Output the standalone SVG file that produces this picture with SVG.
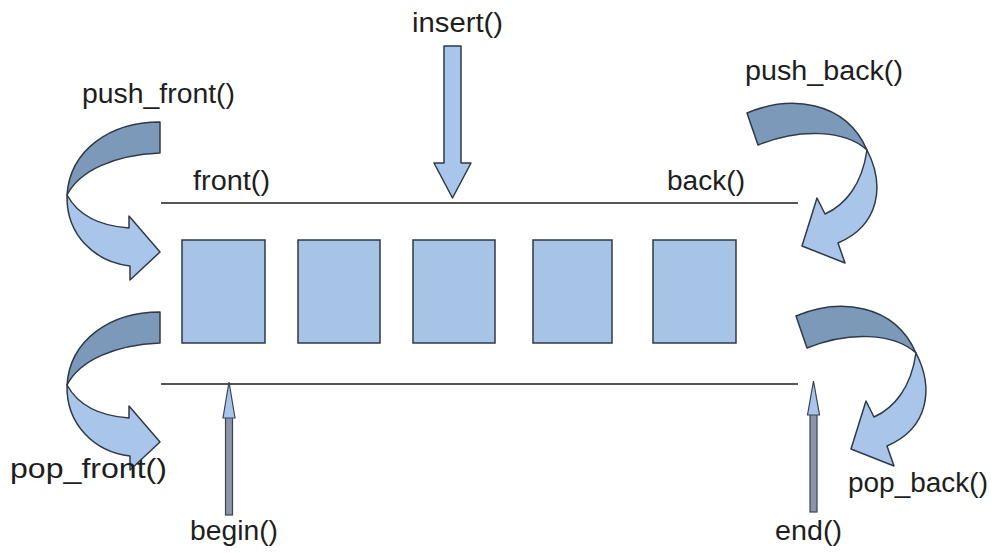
<svg xmlns="http://www.w3.org/2000/svg" width="994" height="553" viewBox="0 0 994 553">
<style>
.t{font-family:"Liberation Sans",Arial,sans-serif;font-size:27px;fill:#1e1e1e}
.box{fill:#a7c3e6;stroke:#2e3a48;stroke-width:1.5}
.dark{fill:#7d99b9;stroke:#2e3a48;stroke-width:1.5;stroke-linejoin:round}
.light{fill:#a9c6ea;stroke:#2e3a48;stroke-width:1.5;stroke-linejoin:round}
.rail{stroke:#555;stroke-width:2}
.ptr{fill:#8c95a8;stroke:#3a4454;stroke-width:1.2}
.ptrh{fill:#a9c6ea;stroke:#3a4454;stroke-width:1.2}
</style>
<defs>
<g id="leftArrow">
<path class="dark" d="M160,122 C110,122 70,150 67,195 C80,170 115,155 160,153 Z"/>
<path class="light" d="M67,195 C66,235 95,262 130,266 L130,280 L160,252 L129,216 L129,228 C100,226 78,215 67,195 Z"/>
</g>
<g id="rightArrow">
<path class="dark" d="M747,113 C790,95 845,100 867,150 C845,130 800,128 758,145 Z"/>
<path class="light" d="M867,150 C885,185 880,225 838,243 L845,263 L802,246 L817,198 L825,214 C845,205 862,185 867,150 Z"/>
</g>
</defs>
<rect width="994" height="553" fill="#fff"/>
<g id="rails">
<line class="rail" x1="161" y1="203" x2="798" y2="203"/>
<line class="rail" x1="161" y1="384" x2="798" y2="384"/>
</g>
<g id="elements">
<rect class="box" x="182" y="240" width="83" height="103"/>
<rect class="box" x="298" y="240" width="82" height="103"/>
<rect class="box" x="413" y="240" width="82" height="103"/>
<rect class="box" x="533" y="240" width="79" height="103"/>
<rect class="box" x="653" y="240" width="83" height="103"/>
</g>
<g id="connectors">
<use id="push_front_arrow" href="#leftArrow"/>
<use id="pop_front_arrow" href="#leftArrow" transform="translate(0,190)"/>
<use id="push_back_arrow" href="#rightArrow"/>
<use id="pop_back_arrow" href="#rightArrow" transform="translate(49,203)"/>
<g id="insert_arrow">
<path class="light" d="M444,46 L461,46 L461,163 L471,163 L452.5,198 L434,163 L444,163 Z"/>
</g>
<g id="begin_arrow">
<rect class="ptr" x="225.5" y="416" width="7" height="99"/>
<path class="ptrh" d="M229,382 L235,418 L223,418 Z"/>
</g>
<g id="end_arrow">
<rect class="ptr" x="810" y="413" width="7" height="99"/>
<path class="ptrh" d="M813.5,381 L819.5,415 L807.5,415 Z"/>
</g>
</g>
<g id="labels">
<text class="t" x="82" y="103" textLength="153" lengthAdjust="spacingAndGlyphs">push_front()</text>
<text class="t" x="412" y="32" textLength="91" lengthAdjust="spacingAndGlyphs">insert()</text>
<text class="t" x="745" y="80" textLength="158" lengthAdjust="spacingAndGlyphs">push_back()</text>
<text class="t" x="193" y="190" textLength="77" lengthAdjust="spacingAndGlyphs">front()</text>
<text class="t" x="667" y="190" textLength="78" lengthAdjust="spacingAndGlyphs">back()</text>
<text class="t" x="10" y="478" textLength="157" lengthAdjust="spacingAndGlyphs">pop_front()</text>
<text class="t" x="848" y="492" textLength="140" lengthAdjust="spacingAndGlyphs">pop_back()</text>
<text class="t" x="190" y="540" textLength="88" lengthAdjust="spacingAndGlyphs">begin()</text>
<text class="t" x="775" y="540" textLength="67" lengthAdjust="spacingAndGlyphs">end()</text>
</g>
</svg>
